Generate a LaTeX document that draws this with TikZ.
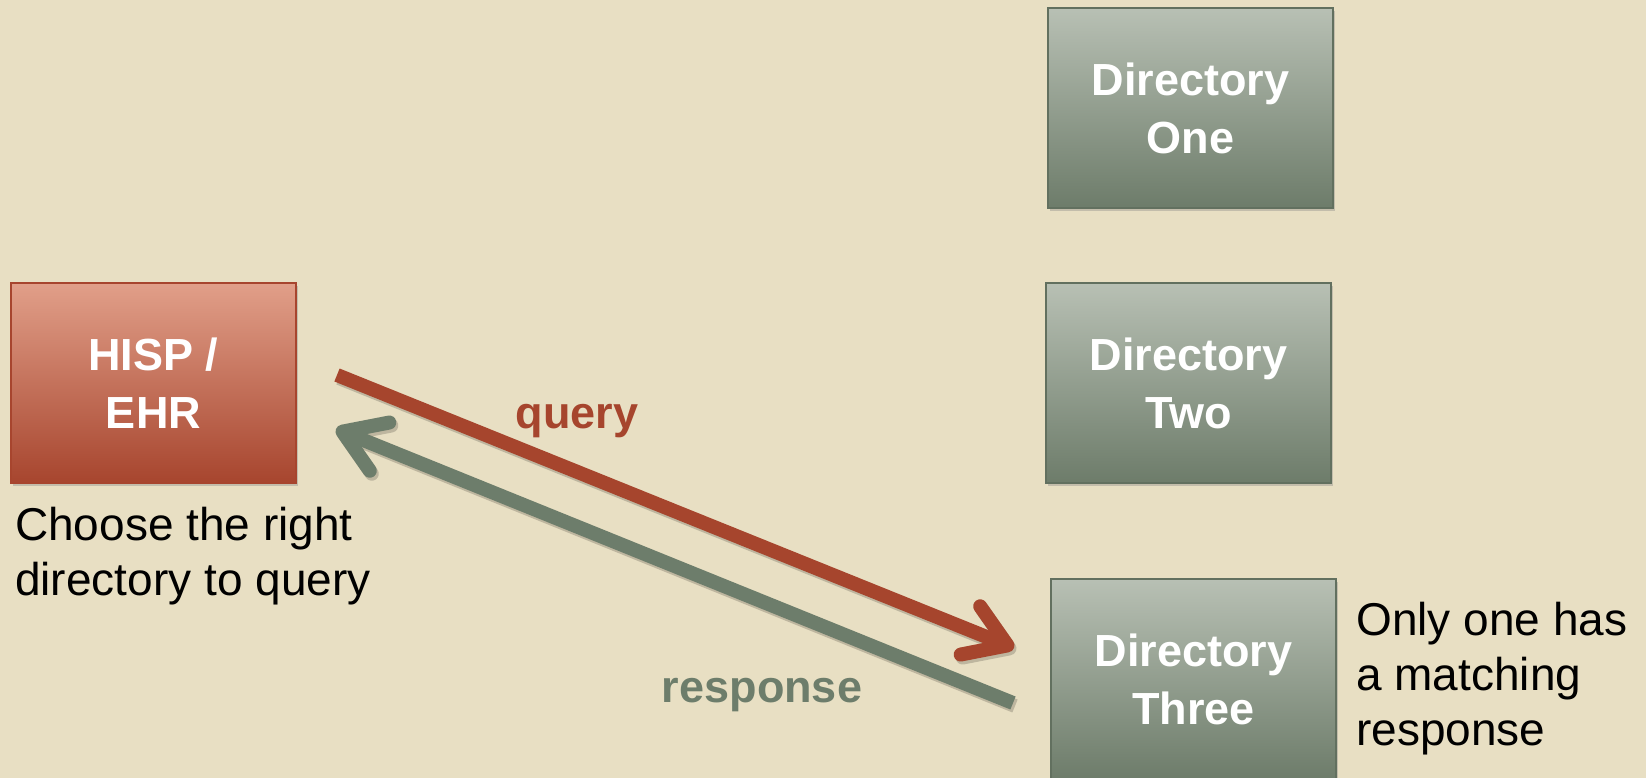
\documentclass[tikz,border=0pt]{standalone}
\usepackage{fontspec}
\setmainfont{Liberation Sans}
\usetikzlibrary{arrows.meta,shadows}
\definecolor{bgc}{HTML}{E8DFC3}
\definecolor{redtop}{HTML}{E19F89}
\definecolor{redbot}{HTML}{A7452E}
\definecolor{redline}{HTML}{A6452D}
\definecolor{grntop}{HTML}{B8C0B4}
\definecolor{grnbot}{HTML}{6D7C6A}
\definecolor{grnline}{HTML}{6D7D6B}
\tikzset{
  boxbase/.style={rectangle, minimum width=285pt, minimum height=200pt, inner sep=0pt,
    line width=2pt, align=center, text=white,
    font=\fontsize{45}{58}\selectfont\bfseries,
    drop shadow={opacity=0.35, shadow xshift=2pt, shadow yshift=-3pt}},
  hispbox/.style={boxbase, draw=redbot, top color=redtop, bottom color=redbot},
  dirbox/.style={boxbase, draw=grnbot!90!black, top color=grntop, bottom color=grnbot},
  flow/.style={line width=14pt, -{Straight Barb[length=40pt, width=52pt, line width=0pt 1, round]},
    preaction={draw=black, opacity=0.18, line width=14pt, transform canvas={xshift=2pt,yshift=-3pt}}},
  note/.style={inner sep=0pt, align=left, font=\fontsize{46}{55}\selectfont, text=black},
  flowlabel/.style={inner sep=0pt, font=\fontsize{45}{54}\selectfont\bfseries}
}
\begin{document}
\begin{tikzpicture}[x=1pt,y=-1pt]
  \fill[bgc] (0,0) rectangle (1646,778);
  \useasboundingbox (0,0) rectangle (1646,778);
  \clip (0,0) rectangle (1646,778);

  \node[hispbox] (hisp) at (153.5,383) {HISP /\\EHR};
  \node[dirbox] (d1) at (1190.5,108) {Directory\\One};
  \node[dirbox] (d2) at (1188.5,383) {Directory\\Two};
  \node[dirbox] (d3) at (1193.5,679) {Directory\\Three};

  \coordinate (qs) at (337,375);
  \coordinate (qe) at (1014,648);
  \coordinate (rs) at (1013,703);
  \coordinate (re) at (336,429);

  \draw[flow, redline] (qs) -- (qe);
  \draw[flow, grnline] (rs) -- (re);

  \node[flowlabel, text=redline, anchor=base] (ql) at (577,428) {query};
  \node[flowlabel, text=grnline, anchor=base] (rl) at (762,702) {response};

  \node[note, anchor=base west] (n1) at (15,595) {Choose the right\\directory to query};
  \node[note, anchor=base west] (n2) at (1356,745) {Only one has\\a matching\\response};
\end{tikzpicture}
\end{document}
